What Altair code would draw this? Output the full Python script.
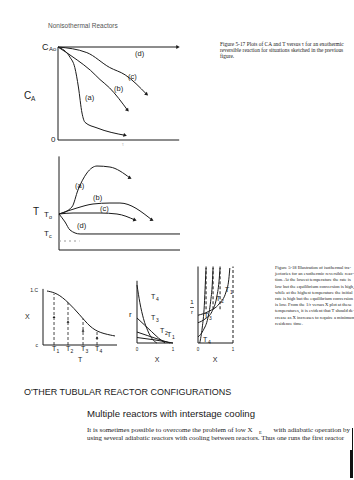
import math
import altair as alt
import pandas as pd

W, H = 354, 480
INK = "#1a1a1a"

# ---------------- data (panel units) ----------------
# Fig 5-17 top: C_A / C_A0 versus tau (normalised)
tau_a = [0, 0.10, 0.14, 0.17, 0.20, 0.225, 0.325, 0.56]
ca_a = [1, 0.89, 0.78, 0.57, 0.29, 0.19, 0.13, 0.05]
tau_b = [0, 0.16, 0.27, 0.35, 0.43, 0.58]
ca_b = [1, 0.86, 0.75, 0.65, 0.56, 0.32]
tau_c = [0, 0.24, 0.43, 0.56, 0.74]
ca_c = [1, 0.94, 0.78, 0.70, 0.49]
tau_d = [0, 1.0]
ca_d = [1, 1]

# Fig 5-17 middle: T versus tau (normalised)
tt_a = [0, 0.107, 0.157, 0.231, 0.314, 0.421, 0.587]
T_a = [0.40, 0.478, 0.667, 0.856, 0.933, 0.922, 0.80]
tt_b = [0, 0.149, 0.281, 0.421, 0.504, 0.769]
T_b = [0.40, 0.467, 0.511, 0.522, 0.522, 0.333]
tt_c = [0, 0.116, 0.339, 0.479, 0.628]
T_c = [0.40, 0.411, 0.411, 0.40, 0.333]
tt_d = [0, 0.05, 0.091, 0.174, 1.0]
T_d = [0.40, 0.311, 0.222, 0.178, 0.178]

# Fig 5-18 left: equilibrium X versus T
T_eq = [0.054, 0.189, 0.338, 0.50, 0.635, 0.77, 0.973]
X_eq = [0.982, 0.945, 0.782, 0.545, 0.327, 0.218, 0.164]
T_iso = [0.149, 0.338, 0.541, 0.730]
X_iso = [0.93, 0.78, 0.48, 0.25]
T_names = ["1", "2", "3", "4"]

# Fig 5-18 middle: r versus X
r_curves = {
    "4": ([0, 0.08, 0.18, 0.30, 0.42, 0.55], [0.95, 0.66, 0.40, 0.20, 0.07, 0]),
    "3": ([0, 0.2, 0.4, 0.6, 0.78], [0.41, 0.30, 0.19, 0.08, 0]),
    "2": ([0, 0.3, 0.6, 0.92], [0.18, 0.12, 0.06, 0]),
    "1": ([0, 0.5, 1.0], [0.09, 0.05, 0]),
}
# Fig 5-18 right: 1/r versus X
inv_curves = {
    "1": ([0, 0.3, 0.6, 0.8, 0.88, 0.91], [0.37, 0.42, 0.52, 0.68, 0.85, 1.0]),
    "2": ([0, 0.2, 0.4, 0.53, 0.60, 0.63], [0.27, 0.32, 0.42, 0.60, 0.82, 1.0]),
    "3": ([0, 0.15, 0.28, 0.36, 0.41, 0.43], [0.08, 0.17, 0.33, 0.55, 0.80, 1.0]),
    "4": ([0.05, 0.12, 0.18, 0.21, 0.23], [0, 0.2, 0.5, 0.8, 1.0]),
}
inv_asym = {"1": 0.91, "2": 0.63, "3": 0.43, "4": 0.23}

cap17 = [
    "Figure 5-17   Plots of CA and T versus τ for an exothermic",
    "reversible reaction for situations sketched in the previous",
    "figure.",
]
cap18 = [
    "Figure 5-18  Illustration  of  isothermal  tra-",
    "jectories for an exothermic reversible reac-",
    "tion. At the lowest temperature the rate is",
    "low but the equilibrium conversion is high,",
    "while at the highest temperature the initial",
    "rate is high but the equilibrium conversion",
    "is low. From the 1/r versus X plot at these",
    "temperatures, it is evident that T should de-",
    "crease as X increases to require a minimum",
    "residence time.",
]
body1a = "It is sometimes possible to overcome the problem of low X"
body1b = "with adiabatic operation by"
body2 = "using several adiabatic reactors with cooling between reactors. Thus one runs the first reactor"

# ---------------- layout ----------------
BOX_CA = (58, 178, 140, 47)
BOX_T = (59, 180, 250, 160)
BOX_XT = (43, 117, 345, 290)
BOX_R = (137, 173, 343, 282)
BOX_IR = (198, 233, 343, 268)

X = alt.X("px:Q", scale=alt.Scale(domain=[0, W]), axis=None)
Y = alt.Y("py:Q", scale=alt.Scale(domain=[0, H], reverse=True), axis=None)


def place(xs, ys, box):
    x0, x1, y0, y1 = box
    return [x0 + (x1 - x0) * v for v in xs], [y0 + (y1 - y0) * v for v in ys]


def line(xs, ys, box, dash=None, width=1.0, color=INK, interp="monotone"):
    px, py = place(xs, ys, box)
    df = pd.DataFrame({"px": px, "py": py, "o": list(range(len(px)))})
    kw = dict(color=color, strokeWidth=width, interpolate=interp)
    if dash:
        kw["strokeDash"] = dash
    return alt.Chart(df).mark_line(**kw).encode(x=X, y=Y, order="o:Q")


def arrow(xs, ys, box, size=16):
    px, py = place(xs[-2:], ys[-2:], box)
    ang = math.degrees(math.atan2(py[1] - py[0], px[1] - px[0])) % 360
    df = pd.DataFrame({"px": [px[1]], "py": [py[1]], "ang": [ang]})
    return alt.Chart(df).mark_point(shape="triangle-right", filled=True, size=size,
                                    color=INK, opacity=1).encode(
        x=X, y=Y, angle=alt.Angle("ang:Q", scale=None))


def text(s, x, y, size=7, font="Liberation Sans", align="left", color=INK,
         baseline="middle", weight="normal"):
    df = pd.DataFrame({"px": [x], "py": [y], "t": [s]})
    return alt.Chart(df).mark_text(align=align, baseline=baseline, fontSize=size,
                                   font=font, color=color, fontWeight=weight).encode(
        x=X, y=Y, text="t:N")


def para(lines, x, y0, step, size, font="Liberation Serif", color=INK):
    df = pd.DataFrame({"px": [x] * len(lines),
                       "py": [y0 + i * step for i in range(len(lines))],
                       "t": lines})
    return alt.Chart(df).mark_text(align="left", baseline="middle", fontSize=size,
                                   font=font, color=color).encode(x=X, y=Y, text="t:N")


layers = []

# header
layers.append(text("Nonisothermal    Reactors", 48, 26, 6.5, color="#555"))

# ---- C_A panel ----
layers.append(line([0, 0, 1.01], [1.0, 0, 0], BOX_CA, interp="linear"))
for xs, ys in [(tau_a, ca_a), (tau_b, ca_b), (tau_c, ca_c), (tau_d, ca_d)]:
    layers.append(line(xs, ys, BOX_CA))
    layers.append(arrow(xs, ys, BOX_CA))
layers += [
    text("C", 42, 47, 9), text("Ao", 49, 49, 6),
    text("C", 24, 96, 10), text("A", 31, 99, 6.5),
    text("0", 51, 140, 8),
    text("(d)", 135, 54, 7.5), text("(c)", 128, 77, 7.5),
    text("(b)", 114, 89, 7.5), text("(a)", 85, 98, 7.5),
    text("τ", 122, 145, 4.5, color="#bbb"),
]
layers.append(para(cap17, 220, 44, 6, 5.4))

# ---- T panel ----
layers.append(line([0, 0, 1.0], [1.04, 0, 0], BOX_T, interp="linear"))
layers.append(line([0, 0.17], [0.1, 0.1], BOX_T, dash=[2, 3], color="#999", interp="linear"))
for xs, ys in [(tt_a, T_a), (tt_b, T_b), (tt_c, T_c)]:
    layers.append(line(xs, ys, BOX_T))
    layers.append(arrow(xs, ys, BOX_T))
layers.append(line(tt_d, T_d, BOX_T))
layers += [
    text("T", 33, 212, 10),
    text("T", 44, 215, 8), text("o", 49, 217, 5.5),
    text("T", 44, 234, 8), text("c", 49, 236, 5.5),
    text("(a)", 75, 186, 7.5), text("(b)", 93, 198, 7.5),
    text("(c)", 100, 209, 7.5), text("(d)", 77, 226, 7.5),
]

# ---- X vs T panel ----
layers.append(line([0, 0, 1.0], [1.02, 0, 0], BOX_XT, interp="linear"))
layers.append(line(T_eq, X_eq, BOX_XT, interp="basis"))
for tv, xv, nm in zip(T_iso, X_iso, T_names):
    layers.append(line([tv, tv], [0, xv], BOX_XT, dash=[3, 2], width=0.8, interp="linear"))
    layers.append(arrow([tv, tv], [xv * 0.3, xv * 0.55], BOX_XT, size=8))
    px, _ = place([tv], [0], BOX_XT)
    layers.append(text("T", px[0] - 2, 349, 7))
    layers.append(text(nm, px[0] + 2.5, 351, 5))
layers += [
    text("X", 25, 317, 7), text("1.C", 38, 290, 5, align="right"),
    text("c", 38, 345, 5, align="right"), text("T", 78, 360, 7),
]

# ---- r vs X panel ----
layers.append(line([0, 0, 1.0], [1.02, 0, 0], BOX_R, interp="linear"))
for nm, (xs, ys) in r_curves.items():
    layers.append(line(xs, ys, BOX_R))
layers += [
    text("r", 129, 315, 8),
    text("T", 151, 297, 7), text("4", 156, 299, 5),
    text("T", 151, 318, 7), text("3", 156, 320, 5),
    text("T", 160, 331, 7), text("2", 165, 333, 5),
    text("T", 167, 335, 7), text("1", 172, 337, 5),
    text("0", 137, 350, 4.5, align="center"), text("1", 173, 350, 4.5, align="center"),
    text("X", 157, 360, 7, align="center"),
]

# ---- 1/r vs X panel ----
layers.append(line([0, 0, 1.0], [1.02, 0, 0], BOX_IR, interp="linear"))
layers.append(line([1.0, 1.0], [0, 1.02], BOX_IR, dash=[3, 2], interp="linear"))
for nm, (xs, ys) in inv_curves.items():
    layers.append(line(xs, ys, BOX_IR))
    a = inv_asym[nm]
    if nm != "1":
        layers.append(line([a, a], [0.45, 1.02], BOX_IR, dash=[3, 2], interp="linear"))
frac = pd.DataFrame({"px": [190.0], "px2": [194.0], "py": [307.5]})
layers += [
    text("1", 192, 302, 6, align="center"),
    alt.Chart(frac).mark_rule(color=INK, strokeWidth=0.7).encode(x=X, x2="px2:Q", y=Y),
    text("r", 192, 312, 6, align="center"),
    text("T", 225, 290, 7), text("1", 230, 292, 5),
    text("T", 216, 299, 7), text("2", 221, 301, 5),
    text("T", 204, 316, 7), text("3", 209, 318, 5),
    text("T", 203, 340, 7), text("4", 208, 342, 5),
    text("0", 198, 350, 4.5, align="center"), text("1", 233, 350, 4.5, align="center"),
    text("X", 215, 360, 7, align="center"),
]
layers.append(para(cap18, 275, 268, 6.2, 4.6))

# ---- page text ----
layers.append(text("O'THER    TUBULAR    REACTOR    CONFIGURATIONS", 24, 392, 9))
layers.append(text("Multiple reactors with interstage cooling", 87, 414, 9.6))
layers.append(text(body1a, 87, 430, 7, font="Liberation Serif"))
layers.append(text("E", 259, 433, 4.5, font="Liberation Serif"))
layers.append(text(body1b, 350, 430, 7, font="Liberation Serif", align="right"))
layers.append(text(body2, 87, 438, 6.9, font="Liberation Serif"))

# scan edge mark
edge = pd.DataFrame({"px": [351.5, 352.5], "py": [450, 428], "py2": [478, 450],
                     "w": [3.0, 1.0]})
layers.append(alt.Chart(edge).mark_rule(color="#111").encode(
    x=X, y=Y, y2="py2:Q", strokeWidth=alt.StrokeWidth("w:Q", scale=None)))

chart = alt.layer(*layers).properties(
    width=W, height=H, autosize=alt.AutoSizeParams(type="none"), padding=0,
    background="white"
).configure_view(stroke=None)

chart.save("out.html", embed_options={"renderer": "svg", "actions": False})
